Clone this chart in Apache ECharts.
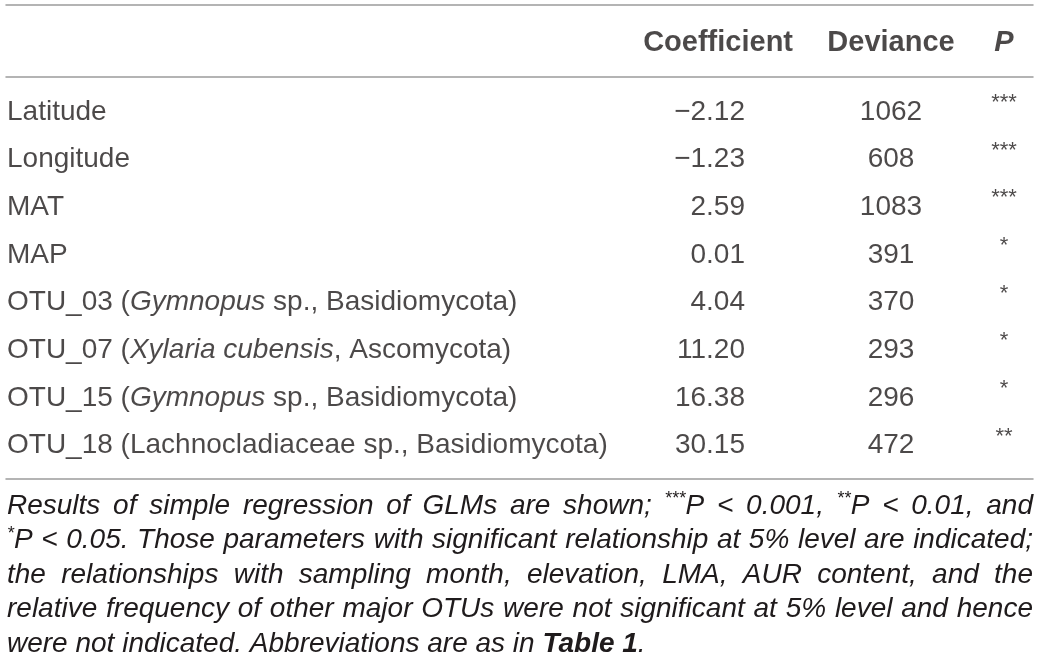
<!DOCTYPE html>
<html>
<head>
<meta charset="utf-8">
<script src="https://cdn.jsdelivr.net/npm/echarts@6/dist/echarts.min.js"></script>
<style>
  html, body { margin: 0; padding: 0; background: #fff; }
  #main { width: 1041px; height: 672px; }
</style>
</head>
<body>
<div id="main"></div>
<script>
// table content
var headers = ['', 'Coefficient', 'Deviance', '{bi|P}'];
var rowNames = [
    'Latitude',
    'Longitude',
    'MAT',
    'MAP',
    'OTU_03 ({i|Gymnopus} sp., Basidiomycota)',
    'OTU_07 ({i|Xylaria cubensis}, Ascomycota)',
    'OTU_15 ({i|Gymnopus} sp., Basidiomycota)',
    'OTU_18 (Lachnocladiaceae sp., Basidiomycota)'
];
var coefficients = [-2.12, -1.23, 2.59, 0.01, 4.04, 11.20, 16.38, 30.15];
var deviances = [1062, 608, 1083, 391, 370, 293, 296, 472];
var pStars = ['***', '***', '***', '*', '*', '*', '*', '**'];

// footnote, one entry per printed line ({s|} = small stars, {b|} = bold)
var captionLines = [
    'Results of simple regression of GLMs are shown; {s|***}P < 0.001, {s|**}P < 0.01, and',
    '{s|*}P < 0.05. Those parameters with significant relationship at 5% level are indicated;',
    'the relationships with sampling month, elevation, LMA, AUR content, and the',
    'relative frequency of other major OTUs were not significant at 5% level and hence',
    'were not indicated. Abbreviations are as in {b|Table} {b|1}.'
];

// layout
var FONT = '"Liberation Sans", Arial, Helvetica, sans-serif';
var INK = '#1f1b1c';
var RULE = '#9c9c9c';
var colX = [7, 745, 891, 1004];
var colAlign = ['left', 'right', 'center', 'center'];

function fmtCoef(v){
    return (v < 0 ? '\u2212' : '') + Math.abs(v).toFixed(2);
}

var cellTexts = [
    rowNames,
    coefficients.map(fmtCoef),
    deviances.map(String),
    pStars
];

var richStyles = {
    i: {fontStyle: 'italic', fontSize: 28, fontFamily: FONT, color: INK},
    bi: {fontStyle: 'italic', fontWeight: 'bold', fontSize: 29, fontFamily: FONT, color: INK}
};

function bodySeries(k){
    var texts = cellTexts[k];
    var star = (k == 3);
    return {
        type: 'scatter', xAxisIndex: 1, yAxisIndex: 1,
        symbolSize: 0, silent: true,
        data: texts.map(function(t, i){ return [colX[k], i]; }),
        label: {
            show: true, position: 'inside',
            align: colAlign[k], verticalAlign: 'middle',
            color: INK, fontFamily: FONT,
            fontSize: star ? 22 : 28,
            offset: star ? [0, -9] : [0, 0],
            formatter: function(p){ return texts[p.dataIndex]; },
            rich: richStyles
        }
    };
}

function headerSeries(k){
    return {
        type: 'scatter', xAxisIndex: 0, yAxisIndex: 0,
        symbolSize: 0, silent: true,
        data: [[colX[k] + (k == 1 ? 48 : 0), 0.53]],
        label: {
            show: true, position: 'inside',
            align: colAlign[k], verticalAlign: 'middle',
            color: INK, fontFamily: FONT, fontSize: 29, fontWeight: 'bold',
            formatter: function(){ return headers[k]; },
            rich: richStyles
        }
    };
}

// caption: justified like the printed page
var capFonts = {
    n: {font: 'italic 28px ' + FONT, dy: 0},
    s: {font: 'italic 18px ' + FONT, dy: -7},
    b: {font: 'italic bold 28px ' + FONT, dy: 0}
};
var measureCtx = document.createElement('canvas').getContext('2d');
function textW(t, f){
    measureCtx.font = f;
    return measureCtx.measureText(t).width;
}
function parseWord(w){
    var runs = [], m, re = /\{(\w+)\|([^}]*)\}|([^{]+)/g;
    while ((m = re.exec(w))) {
        if (m[1]) runs.push({st: m[1], t: m[2]});
        else runs.push({st: 'n', t: m[3]});
    }
    return runs;
}
function captionGraphics(){
    var out = [];
    var left = 7, right = 1033, y0 = 506, pitch = 34.5;
    captionLines.forEach(function(line, li){
        var words = line.split(' ').map(parseWord);
        var widths = words.map(function(runs){
            var s = 0;
            runs.forEach(function(r){ r.w = textW(r.t, capFonts[r.st].font); s += r.w; });
            return s;
        });
        var total = widths.reduce(function(a, b){ return a + b; }, 0);
        var last = (li == captionLines.length - 1);
        var gap = last ? textW(' ', capFonts.n.font) : (right - left - total) / (words.length - 1);
        var x = left;
        var y = y0 + li * pitch;
        words.forEach(function(runs){
            runs.forEach(function(r){
                out.push({
                    type: 'text', x: x, y: y + capFonts[r.st].dy, silent: true,
                    style: {text: r.t, font: capFonts[r.st].font, fill: INK, align: 'left', verticalAlign: 'middle'}
                });
                x += r.w;
            });
            x += gap;
        });
    });
    return out;
}

function ruleAxis(gridIndex, pos){
    return {
        type: 'value', gridIndex: gridIndex, position: pos, min: 6, max: 1033,
        axisLine: {show: true, onZero: false, lineStyle: {color: RULE, width: 1.5}},
        axisTick: {show: false}, axisLabel: {show: false}, splitLine: {show: false}
    };
}

var myChart = echarts.init(document.getElementById('main'));
myChart.setOption({
    animation: false,
    backgroundColor: '#fff',
    grid: [
        {left: 6, right: 8, top: 5, bottom: 595},
        {left: 6, right: 8, top: 77, bottom: 193}
    ],
    xAxis: [ruleAxis(0, 'top'), ruleAxis(1, 'top'), ruleAxis(1, 'bottom')],
    yAxis: [
        {type: 'value', gridIndex: 0, min: 0, max: 1, inverse: true, show: false},
        {type: 'value', gridIndex: 1, min: -0.735, max: 7.70, inverse: true, show: false}
    ],
    series: [
        headerSeries(1), headerSeries(2), headerSeries(3),
        bodySeries(0), bodySeries(1), bodySeries(2), bodySeries(3)
    ],
    graphic: captionGraphics()
});
</script>
</body>
</html>
